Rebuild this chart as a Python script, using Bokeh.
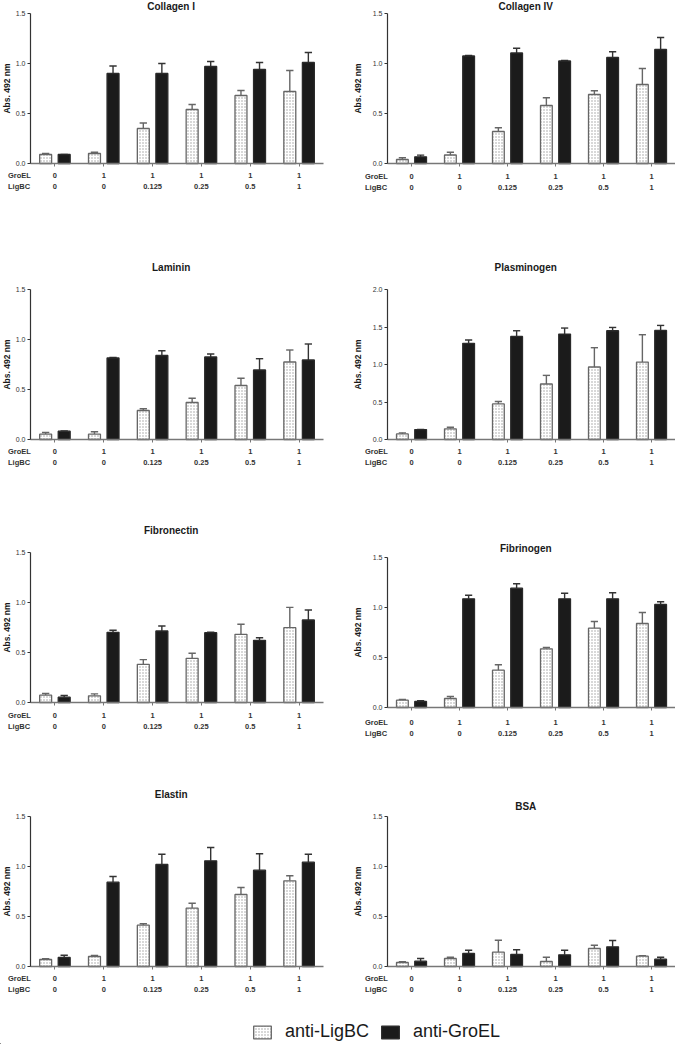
from bokeh.plotting import figure
from bokeh.layouts import column, row
from bokeh.models import (Range1d, FixedTicker, PrintfTickFormatter, Legend, LegendItem,
                          ColumnDataSource)
from bokeh.core.properties import value
from bokeh.transform import dodge
from bokeh.embed import file_html
from bokeh.resources import INLINE

FONT = "Liberation Sans"

groups = [0, 1, 2, 3, 4, 5]
groel_labels = ["0", "1", "1", "1", "1", "1"]
ligbc_labels = ["0", "0", "0.125", "0.25", "0.5", "1"]
row_names = ["GroEL", "LigBC"]
series_names = ["anti-LigBC", "anti-GroEL"]
y_title = "Abs. 492 nm"

collagen1_lig = [0.09, 0.10, 0.35, 0.54, 0.68, 0.72]
collagen1_lig_err = [0.01, 0.013, 0.055, 0.05, 0.05, 0.21]
collagen1_gro = [0.09, 0.90, 0.90, 0.97, 0.94, 1.01]
collagen1_gro_err = [0.0, 0.075, 0.10, 0.05, 0.07, 0.10]

collagen4_lig = [0.04, 0.085, 0.32, 0.58, 0.69, 0.79]
collagen4_lig_err = [0.017, 0.027, 0.037, 0.077, 0.037, 0.16]
collagen4_gro = [0.067, 1.075, 1.105, 1.025, 1.06, 1.14]
collagen4_gro_err = [0.017, 0.006, 0.047, 0.006, 0.057, 0.12]

laminin_lig = [0.053, 0.053, 0.29, 0.37, 0.54, 0.775]
laminin_lig_err = [0.017, 0.024, 0.017, 0.043, 0.073, 0.12]
laminin_gro = [0.083, 0.815, 0.84, 0.825, 0.695, 0.795]
laminin_gro_err = [0.003, 0.006, 0.047, 0.03, 0.113, 0.16]

plasminogen_lig = [0.075, 0.142, 0.475, 0.74, 0.967, 1.033]
plasminogen_lig_err = [0.014, 0.022, 0.031, 0.115, 0.257, 0.364]
plasminogen_gro = [0.133, 1.282, 1.375, 1.406, 1.45, 1.455]
plasminogen_gro_err = [0.0, 0.044, 0.075, 0.08, 0.044, 0.066]

fibronectin_lig = [0.073, 0.067, 0.382, 0.442, 0.682, 0.748]
fibronectin_lig_err = [0.017, 0.019, 0.047, 0.05, 0.10, 0.203]
fibronectin_gro = [0.053, 0.702, 0.715, 0.698, 0.622, 0.825]
fibronectin_gro_err = [0.017, 0.02, 0.05, 0.004, 0.026, 0.10]

fibrinogen_lig = [0.073, 0.09, 0.373, 0.587, 0.793, 0.84]
fibrinogen_lig_err = [0.007, 0.02, 0.054, 0.013, 0.067, 0.11]
fibrinogen_gro = [0.06, 1.087, 1.193, 1.087, 1.087, 1.03]
fibrinogen_gro_err = [0.007, 0.036, 0.044, 0.056, 0.06, 0.027]

elastin_lig = [0.07, 0.10, 0.413, 0.583, 0.72, 0.857]
elastin_lig_err = [0.007, 0.01, 0.014, 0.05, 0.07, 0.05]
elastin_gro = [0.09, 0.843, 1.02, 1.057, 0.963, 1.043]
elastin_gro_err = [0.023, 0.057, 0.103, 0.133, 0.164, 0.08]

bsa_lig = [0.04, 0.08, 0.143, 0.05, 0.18, 0.103]
bsa_lig_err = [0.007, 0.013, 0.12, 0.043, 0.033, 0.004]
bsa_gro = [0.053, 0.13, 0.12, 0.117, 0.197, 0.073]
bsa_gro_err = [0.027, 0.033, 0.047, 0.046, 0.063, 0.02]

yticks_15 = [0.0, 0.5, 1.0, 1.5]
yticks_20 = [0.0, 0.5, 1.0, 1.5, 2.0]

LIG_STYLE = dict(fill_color="white", line_color="#666666", line_width=1.3,
                 hatch_pattern="dot", hatch_color="#9c9c9c", hatch_scale=3, hatch_weight=0.9)
GRO_STYLE = dict(fill_color="#1b1b1b", line_color="#2a2a2a", line_width=1.3)

OFF = 0.19
BW = 0.245
CAP = 0.075
PLOT_PX = 150  # height of the value area in pixels


def panel(title, lig, lig_err, gro, gro_err, yticks, side, height, top_px,
          title_px, lab_px=(12, 23)):
    ymax = yticks[-1]
    if side == "L":
        width, x0px, plot_w = 338, 30, 293
        ylab_standoff = 1
    else:
        width, x0px, plot_w = 337, 49, 288
        ylab_standoff = 7
    unit = plot_w / 6.0
    s = ymax / PLOT_PX
    bottom_px = height - top_px - PLOT_PX
    p = figure(width=width, height=height, output_backend="svg", toolbar_location=None,
               x_range=Range1d(-0.5 - x0px / unit, -0.5 + (width - x0px) / unit),
               y_range=Range1d(-bottom_px * s, ymax + top_px * s),
               min_border=0, min_border_left=0, min_border_right=0,
               min_border_top=0, min_border_bottom=0)
    p.outline_line_color = None
    p.grid.visible = False
    p.background_fill_color = "white"
    p.border_fill_color = "white"

    src = ColumnDataSource(dict(
        g=groups, lig=lig, gro=gro,
        lig_top=[v + e for v, e in zip(lig, lig_err)],
        gro_top=[v + e for v, e in zip(gro, gro_err)],
    ))
    p.segment(x0=dodge("g", -OFF), x1=dodge("g", -OFF), y0="lig", y1="lig_top",
              source=src, line_color="#666666", line_width=1.4)
    p.segment(x0=dodge("g", -OFF - CAP), x1=dodge("g", -OFF + CAP), y0="lig_top",
              y1="lig_top", source=src, line_color="#666666", line_width=1.4)
    p.segment(x0=dodge("g", OFF), x1=dodge("g", OFF), y0="gro", y1="gro_top",
              source=src, line_color="#333333", line_width=1.4)
    p.segment(x0=dodge("g", OFF - CAP), x1=dodge("g", OFF + CAP), y0="gro_top",
              y1="gro_top", source=src, line_color="#333333", line_width=1.4)
    p.vbar(x=dodge("g", -OFF), top="lig", bottom=0, width=BW, source=src, **LIG_STYLE)
    p.vbar(x=dodge("g", OFF), top="gro", bottom=0, width=BW, source=src, **GRO_STYLE)

    # y axis fixed at the left edge of the value area
    yax = p.yaxis[0]
    yax.fixed_location = -0.5
    yax.bounds = (0, ymax)
    yax.ticker = FixedTicker(ticks=yticks)
    yax.formatter = PrintfTickFormatter(format="%.1f")
    yax.minor_tick_line_color = None
    yax.major_tick_out = 3
    yax.major_tick_in = 0
    yax.major_label_standoff = 2
    yax.major_label_text_font = FONT
    yax.major_label_text_font_size = "7px"
    yax.major_label_text_color = "#333333"
    yax.axis_line_color = "#333333"
    yax.axis_line_width = 1.2
    yax.major_tick_line_color = "#333333"
    yax.axis_label = y_title
    yax.axis_label_text_font = FONT
    yax.axis_label_text_font_size = "8.5px"
    yax.axis_label_text_font_style = "bold"
    yax.axis_label_text_color = "#1a1a1a"
    yax.axis_label_standoff = ylab_standoff

    # x axis fixed at y = 0
    xax = p.xaxis[0]
    xax.fixed_location = 0
    xax.bounds = (-0.5, 5.5)
    xax.ticker = FixedTicker(ticks=groups)
    xax.major_label_overrides = {g: "" for g in groups}
    xax.minor_tick_line_color = None
    xax.major_tick_out = 3
    xax.major_tick_in = 0
    xax.axis_line_color = "#777777"
    xax.axis_line_width = 1.5
    xax.major_tick_line_color = "#777777"

    # title
    p.text(x=[2.38], y=[ymax + title_px * s], text=[title], text_font=value(FONT),
           text_font_size="10px", text_font_style="bold", text_color="#1a1a1a",
           text_align="center", text_baseline="middle")

    # condition rows under the axis
    name_x = -0.5 - 22.5 / unit
    for name, labels, dy in zip(row_names, (groel_labels, ligbc_labels), lab_px):
        ty = -dy * s
        p.text(x=[name_x], y=[ty], text=[name], text_font=value(FONT),
               text_font_size="7.5px", text_font_style="bold", text_color="#333333",
               text_align="left", text_baseline="middle")
        p.text(x=groups, y=[ty] * len(groups), text=labels, text_font=value(FONT),
               text_font_size="7.5px", text_font_style="bold", text_color="#333333",
               text_align="center", text_baseline="middle")
    return p


p1 = panel("Collagen I", collagen1_lig, collagen1_lig_err, collagen1_gro, collagen1_gro_err,
           yticks_15, "L", 248, 13, 7.5)
p2 = panel("Collagen IV", collagen4_lig, collagen4_lig_err, collagen4_gro, collagen4_gro_err,
           yticks_15, "R", 248, 13, 7.5, (13, 24))
p3 = panel("Laminin", laminin_lig, laminin_lig_err, laminin_gro, laminin_gro_err,
           yticks_15, "L", 270, 41, 22.5)
p4 = panel("Plasminogen", plasminogen_lig, plasminogen_lig_err, plasminogen_gro,
           plasminogen_gro_err, yticks_20, "R", 270, 41, 22.5)
p5 = panel("Fibronectin", fibronectin_lig, fibronectin_lig_err, fibronectin_gro,
           fibronectin_gro_err, yticks_15, "L", 260, 34, 22, (13, 24))
p6 = panel("Fibrinogen", fibrinogen_lig, fibrinogen_lig_err, fibrinogen_gro,
           fibrinogen_gro_err, yticks_15, "R", 260, 39, 9.5, (15, 26))
p7 = panel("Elastin", elastin_lig, elastin_lig_err, elastin_gro, elastin_gro_err,
           yticks_15, "L", 218, 38, 22)
p8 = panel("BSA", bsa_lig, bsa_lig_err, bsa_gro, bsa_gro_err,
           yticks_15, "R", 218, 38, 10)

# legend strip (its bars sit far outside the visible range; only the legend shows)
pl = figure(width=675, height=48, output_backend="svg", toolbar_location=None,
            x_range=Range1d(20, 21), y_range=Range1d(20, 21),
            min_border=0, min_border_left=0, min_border_right=0,
            min_border_top=0, min_border_bottom=0)
pl.xaxis.visible = False
pl.yaxis.visible = False
pl.grid.visible = False
pl.outline_line_color = None
r1 = pl.vbar(x=groups, top=collagen1_lig, width=0.1, **LIG_STYLE)
r2 = pl.vbar(x=groups, top=collagen1_gro, width=0.1, **GRO_STYLE)
legend = Legend(items=[LegendItem(label=series_names[0], renderers=[r1]),
                       LegendItem(label=series_names[1], renderers=[r2])],
                orientation="horizontal", location=(251, 2),
                glyph_width=22, glyph_height=16, label_text_font=FONT,
                label_text_font_size="18px", label_text_color="#1a1a1a",
                spacing=10, label_standoff=12, padding=0, margin=0,
                border_line_color=None, background_fill_alpha=0)
pl.add_layout(legend, "center")

layout = column(row(p1, p2), row(p3, p4), row(p5, p6), row(p7, p8), pl)

open("out.html", "w").write(file_html(layout, INLINE))
